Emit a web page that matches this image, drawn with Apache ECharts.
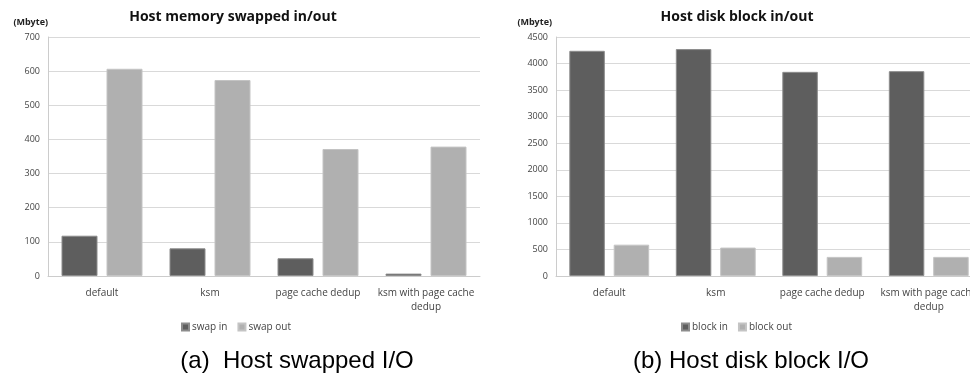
<!DOCTYPE html>
<html><head><meta charset="utf-8">
<script src="https://cdn.jsdelivr.net/npm/echarts@6/dist/echarts.min.js"></script>
<style>html,body{margin:0;padding:0;background:#fff}#c{width:970px;height:374px}</style>
</head><body><div id="c"></div>
<script>
const categories = ['default', 'ksm', 'page cache dedup', 'ksm with page cache\ndedup'];
const swapIn = [118, 81, 52, 7];
const swapOut = [607, 574, 372, 379];
const blockIn = [4240, 4272, 3844, 3857];
const blockOut = [590, 535, 360, 360];
const leftTicks = {min: 0, max: 700, interval: 100};
const rightTicks = {min: 0, max: 4500, interval: 500};

const DARK = '#5e5e5e', LIGHT = '#b0b0b0';
const font = 'Open Sans';
const chart = echarts.init(document.getElementById('c'));
const yAxisCommon = (t, gi, padR) => ({
  type: 'value', gridIndex: gi, min: t.min, max: t.max, interval: t.interval,
  name: '(Mbyte)', nameLocation: 'end', nameGap: 10,
  nameTextStyle: {fontFamily: font, fontSize: 9, fontWeight: 'bold', color: '#222', align: 'right', padding: [0, padR, 0, 0]},
  axisLine: {show: true, lineStyle: {color: '#cccccc'}},
  axisTick: {show: false},
  axisLabel: {fontFamily: font, fontSize: 9, color: '#444', margin: 8, formatter: v => String(v)},
  splitLine: {lineStyle: {color: '#d9d9d9'}}
});
const xAxisCommon = (gi) => ({
  type: 'category', gridIndex: gi, data: categories,
  axisLine: {lineStyle: {color: '#cccccc'}},
  axisTick: {show: false},
  axisLabel: {fontFamily: font, fontSize: 10, color: '#444', margin: 10, lineHeight: 14, interval: 0}
});
const barSeries = (name, data, color, border, gi) => ({
  name, type: 'bar', xAxisIndex: gi, yAxisIndex: gi, data,
  barGap: '25%', barCategoryGap: '25%',
  itemStyle: {color, borderColor: border, borderWidth: 1},
  animation: false
});
const legendCommon = {itemWidth: 7, itemHeight: 7, itemGap: 10, icon: 'rect',
  textStyle: {fontFamily: font, fontSize: 10, color: '#444', padding: [0, 0, 0, -2]}};
chart.setOption({
  animation: false,
  title: [
    {text: 'Host memory swapped in/out', left: 228, top: 5, textAlign: 'center',
     textStyle: {fontFamily: font, fontSize: 14, fontWeight: 'bold', color: '#111'}},
    {text: 'Host disk block in/out', left: 732, top: 5, textAlign: 'center',
     textStyle: {fontFamily: font, fontSize: 14, fontWeight: 'bold', color: '#111'}},
    {text: '(a)  Host swapped I/O', left: 292, top: 344, textAlign: 'center',
     textStyle: {fontFamily: 'Liberation Sans', fontSize: 24, fontWeight: 'normal', color: '#000'}},
    {text: '(b) Host disk block I/O', left: 746, top: 344, textAlign: 'center',
     textStyle: {fontFamily: 'Liberation Sans', fontSize: 24, fontWeight: 'normal', color: '#000'}}
  ],
  legend: [
    Object.assign({data: ['swap in', 'swap out'], left: 176, top: 317}, legendCommon),
    Object.assign({data: ['block in', 'block out'], left: 676, top: 317}, legendCommon)
  ],
  grid: [
    {left: 48, top: 37, width: 432, height: 239, outerBoundsMode: 'none'},
    {left: 556, top: 37, width: 426, height: 239, outerBoundsMode: 'none'}
  ],
  xAxis: [xAxisCommon(0), xAxisCommon(1)],
  yAxis: [yAxisCommon(leftTicks, 0, 0), yAxisCommon(rightTicks, 1, 4)],
  series: [
    barSeries('swap in', swapIn, DARK, '#8c8c8c', 0),
    barSeries('swap out', swapOut, LIGHT, '#c4c4c4', 0),
    barSeries('block in', blockIn, DARK, '#8c8c8c', 1),
    barSeries('block out', blockOut, LIGHT, '#c4c4c4', 1)
  ]
});
</script></body></html>
